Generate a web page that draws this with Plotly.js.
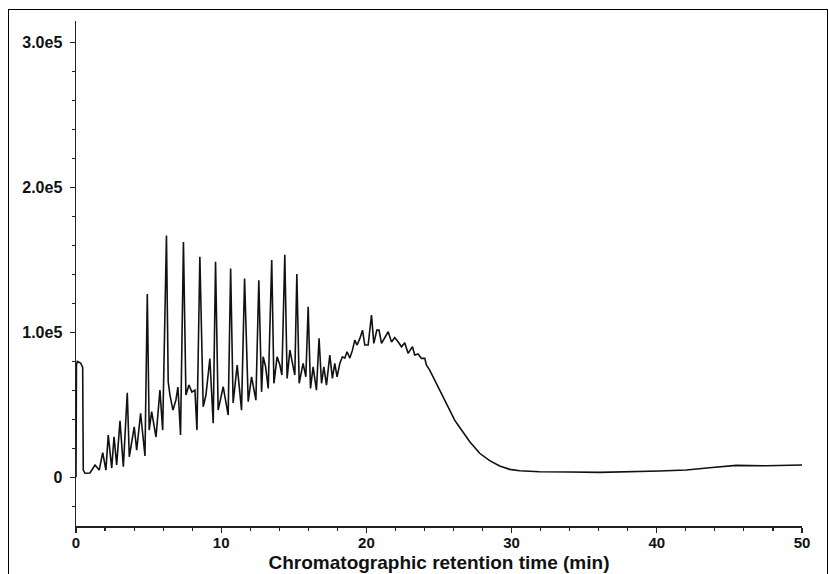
<!DOCTYPE html>
<html>
<head>
<meta charset="utf-8">
<script src="https://cdn.plot.ly/plotly-3.0.1.min.js"></script>
<style>
html,body{margin:0;padding:0;background:#fff;}
#chart{width:829px;height:574px;}
#frame{position:absolute;left:8px;top:9px;width:818px;height:600px;border:1.5px solid #000;border-bottom:none;pointer-events:none;}
</style>
</head>
<body>
<div id="chart"></div>
<div id="frame"></div>
<script>
// Retention time (min)
const retentionTime = [
  0, 0.03, 0.09, 0.32, 0.46, 0.50, 0.62, 0.96, 1.31, 1.60,
  1.84, 2.06, 2.22, 2.46, 2.62, 2.80, 3.03, 3.26, 3.53, 3.67,
  4.01, 4.18, 4.45, 4.75, 4.91, 5.04, 5.21, 5.51, 5.78, 5.97,
  6.23, 6.35, 6.47, 6.68, 6.88, 7.02, 7.20, 7.40, 7.57, 7.78,
  7.98, 8.19, 8.33, 8.53, 8.76, 8.95, 9.22, 9.45, 9.61, 9.79,
  10.14, 10.48, 10.65, 10.82, 11.10, 11.40, 11.61, 11.86, 12.09, 12.39,
  12.59, 12.78, 12.89, 13.06, 13.24, 13.48, 13.63, 13.85, 14.04, 14.18,
  14.38, 14.54, 14.73, 14.91, 15.07, 15.21, 15.37, 15.64, 15.83, 15.99,
  16.15, 16.33, 16.56, 16.74, 16.91, 17.07, 17.25, 17.48, 17.66, 17.82,
  17.98, 18.17, 18.35, 18.51, 18.67, 18.86, 19.04, 19.20, 19.36, 19.55,
  19.73, 19.89, 20.12, 20.35, 20.51, 20.72, 20.87, 21.04, 21.27, 21.50,
  21.73, 21.95, 22.18, 22.42, 22.64, 22.87, 23.17, 23.33, 23.56, 23.79,
  24.02, 24.13, 24.36, 24.71, 25.05, 25.40, 25.74, 26.08, 26.43, 26.77,
  27.12, 27.80, 28.49, 29.18, 29.87, 30.56, 31.93, 34.00, 36.06, 40.19,
  42.03, 43.63, 45.47, 47.53, 50.0
];
// Detector response (counts)
const response = [
  0, 77500, 80000, 78900, 75900, 5000, 2800, 3000, 8500, 5000,
  17000, 5000, 29200, 6400, 28000, 8500, 39000, 7300, 58400, 14200,
  34900, 18800, 44200, 14700, 126500, 32600, 45300, 27800, 60200, 32600,
  167000, 66000, 56800, 46400, 53400, 62300, 29200, 162400, 56800, 63700,
  58900, 60200, 32600, 152200, 48700, 56800, 82000, 37300, 148800, 46400,
  62500, 43000, 144200, 51300, 77500, 46400, 137300, 52200, 69400, 53300,
  136000, 59000, 83200, 76300, 61400, 150000, 64900, 83200, 77500, 70600,
  153700, 68300, 87800, 78700, 70600, 140300, 64900, 78700, 69400, 117700,
  61400, 76300, 60200, 95900, 64900, 76300, 63700, 84400, 68300, 78700,
  69400, 78700, 83200, 82300, 86700, 82300, 87800, 94700, 91300, 95900,
  101600, 91300, 91300, 112000, 92500, 101600, 101600, 92500, 96800, 100500,
  93400, 96500, 93600, 90100, 92900, 85600, 90100, 84400, 85100, 82100,
  82100, 77500, 74000, 67100, 60900, 53300, 46400, 39500, 34400, 29200,
  24600, 16600, 11500, 7800, 5500, 4550, 3860, 3660, 3450, 4350,
  5040, 6620, 8280, 8000, 8500
];
const yTickVals = [0, 100000, 200000, 300000];
const yTickText = ["0", "1.0e5", "2.0e5", "3.0e5"];
const xTickVals = [0, 10, 20, 30, 40, 50];
const xTickText = ["0", "10", "20", "30", "40", "50"];
const xTitle = "Chromatographic retention time (min)";

const fontFam = "Liberation Sans, Arial, Helvetica, sans-serif";

const trace = {
  x: retentionTime,
  y: response,
  type: "scatter",
  mode: "lines",
  line: {color: "#111", width: 1.6},
  hoverinfo: "skip"
};

const layout = {
  width: 829,
  height: 574,
  margin: {l: 76, r: 27, t: 21, b: 48, pad: 0},
  paper_bgcolor: "#fff",
  plot_bgcolor: "#fff",
  showlegend: false,
  xaxis: {
    range: [0, 50],
    showgrid: false,
    zeroline: false,
    showline: true,
    linecolor: "#222",
    linewidth: 1.5,
    ticks: "outside",
    ticklen: 5,
    tickwidth: 1.3,
    tickcolor: "#222",
    tickvals: xTickVals,
    ticktext: xTickText,
    tickfont: {family: fontFam, size: 15, color: "#111", weight: "bold"},
    ticklabelstandoff: -3,
    minor: {dtick: 2, tick0: 0, ticks: "outside", ticklen: 3, tickwidth: 1.1, tickcolor: "#222", showgrid: false},
    title: {text: xTitle, font: {family: fontFam, size: 19, color: "#111", weight: "bold"}, standoff: 6}
  },
  yaxis: {
    range: [-33600, 315000],
    showgrid: false,
    zeroline: false,
    showline: true,
    linecolor: "#222",
    linewidth: 1.5,
    ticks: "outside",
    ticklen: 5,
    tickwidth: 1.3,
    tickcolor: "#222",
    tickvals: yTickVals,
    ticktext: yTickText,
    tickfont: {family: fontFam, size: 16, color: "#111", weight: "bold"},
    minor: {dtick: 20000, tick0: 0, ticks: "outside", ticklen: 3, tickwidth: 1.1, tickcolor: "#222", showgrid: false},
    ticklabelstandoff: 4
  }
};

Plotly.newPlot("chart", [trace], layout, {displayModeBar: false, staticPlot: true});
</script>
</body>
</html>
